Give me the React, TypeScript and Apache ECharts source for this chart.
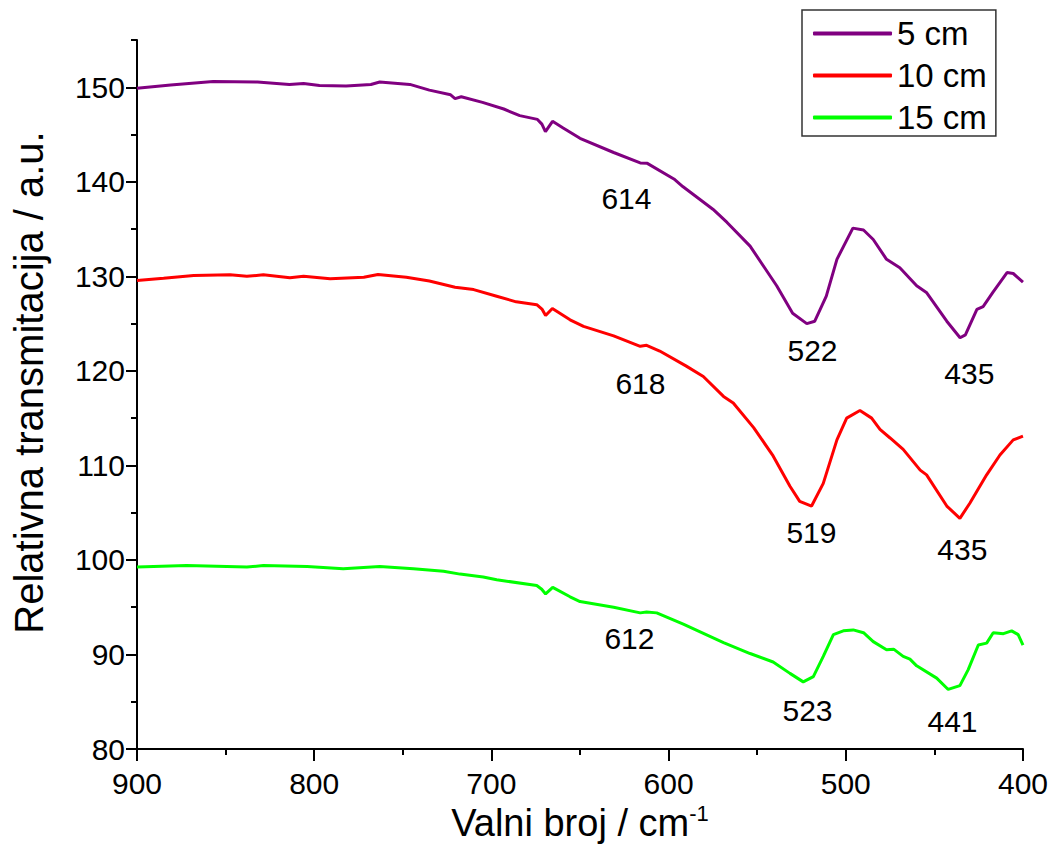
import React, { useEffect, useRef } from "react";
import * as echarts from "echarts";

// 5 cm series (wavenumber, relative transmittance)
const wn5 = [900, 881, 857, 832, 814, 806, 797, 782, 768, 763, 746, 735, 723, 720.5, 717, 705, 693, 684, 674, 671.5, 669.5, 665.5, 659.5, 650, 631, 616, 612, 597, 592, 575, 567, 554, 539, 530, 522, 517.5, 511, 505, 496, 490, 484.5, 477, 469.5, 460, 454.5, 443, 435.5, 432.5, 426, 422.5, 417, 409, 405.5, 400];
const t5 = [149.9, 150.24, 150.6, 150.56, 150.3, 150.4, 150.18, 150.14, 150.3, 150.56, 150.3, 149.7, 149.2, 148.8, 149.0, 148.4, 147.7, 147.0, 146.6, 146.1, 145.3, 146.4, 145.7, 144.6, 143.1, 142.0, 141.95, 140.3, 139.5, 137.1, 135.7, 133.2, 129.0, 126.1, 125.0, 125.25, 127.9, 131.8, 135.1, 134.9, 133.9, 131.8, 130.9, 129.0, 128.3, 125.25, 123.5, 123.8, 126.5, 126.8, 128.3, 130.4, 130.3, 129.4];

// 10 cm series
const wn10 = [900, 885, 868, 847.5, 838, 828.7, 813.7, 806, 791, 772, 764, 748, 735, 720.5, 710, 697, 686, 674.4, 671.3, 669.4, 665.6, 655.6, 648, 631, 616, 612.4, 605, 590, 580.4, 569, 563.5, 552, 541, 531.5, 526, 519.3, 512.7, 505, 499.5, 492, 485.4, 480.7, 475, 467.6, 458, 454.4, 443, 435.6, 430, 420.5, 413, 405.5, 400];
const t10 = [129.56, 129.8, 130.1, 130.16, 130.0, 130.16, 129.85, 130.0, 129.74, 129.9, 130.2, 129.9, 129.5, 128.85, 128.6, 127.9, 127.3, 127.0, 126.5, 125.85, 126.6, 125.4, 124.7, 123.7, 122.6, 122.7, 122.1, 120.5, 119.4, 117.3, 116.6, 114.0, 111.0, 107.8, 106.2, 105.7, 108.1, 112.7, 115.0, 115.8, 115.0, 113.8, 112.9, 111.7, 109.5, 109.0, 105.7, 104.4, 106.0, 109.0, 111.1, 112.7, 113.1];

// 15 cm series
const wn15 = [900, 872, 838, 828.7, 804, 783.6, 763, 744, 727, 717.7, 704.6, 697, 674.4, 671.6, 669.4, 665.4, 655.6, 650, 631, 616, 612.4, 606.7, 591.7, 569, 554, 541, 531.5, 524, 518.3, 512.7, 507, 501.4, 495.8, 490, 484.5, 477, 473, 467.6, 463.8, 460, 448.7, 442.2, 435.6, 430.9, 425.2, 420.5, 416.8, 411, 406.4, 402.7, 400];
const t15 = [99.24, 99.4, 99.24, 99.4, 99.3, 99.06, 99.3, 99.06, 98.8, 98.5, 98.2, 97.9, 97.3, 96.9, 96.4, 97.1, 96.1, 95.6, 95.0, 94.4, 94.5, 94.4, 93.2, 91.26, 90.1, 89.2, 88.0, 87.1, 87.66, 89.8, 92.1, 92.5, 92.6, 92.3, 91.36, 90.5, 90.56, 89.8, 89.5, 88.8, 87.5, 86.3, 86.7, 88.4, 91.0, 91.2, 92.3, 92.2, 92.5, 92.1, 91.0];

const seriesNames = ["5 cm", "10 cm", "15 cm"];
const seriesColors = ["#800080", "#ff0000", "#00ff00"];

// peak annotations (label, wavenumber, value where the label sits)
const annLabels = ["614", "522", "435", "618", "519", "435", "612", "523", "441"];
const annWn = [623.5, 518.5, 430, 615.6, 519.1, 433.9, 621.8, 521.3, 439.5];
const annT = [138.2, 122.1, 119.7, 118.65, 102.8, 101.0, 91.65, 84.0, 82.9];

const yMajorTicks = [80, 90, 100, 110, 120, 130, 140, 150];
const yMinorTicks = [85, 95, 105, 115, 125, 135, 145, 155];

const FONT = "'Liberation Sans', Arial, sans-serif";

export default function App() {
  const ref = useRef<HTMLDivElement>(null);
  useEffect(() => {
    document.body.style.margin = "0";
    if (!ref.current) return;
    const chart = echarts.init(ref.current, undefined, { renderer: "svg" });
    const xs = [wn5, wn10, wn15];
    const ys = [t5, t10, t15];
    const lineSeries = seriesNames.map((name, k) => ({
      name,
      type: "line",
      data: xs[k].map((x, i) => [x, ys[k][i]]),
      symbol: "none",
      showSymbol: false,
      smooth: false,
      lineStyle: { color: seriesColors[k], width: 3 },
      itemStyle: { color: seriesColors[k] },
      z: 3,
    }));
    const axisLineStyle = { color: "#000", width: 2 };
    chart.setOption({
      animation: false,
      textStyle: { fontFamily: FONT },
      grid: { left: 137, right: 28, top: 40, bottom: 118 },
      legend: {
        data: seriesNames.map((n, k) => ({ name: n, icon: "roundRect", itemStyle: { color: seriesColors[k] } })),
        orient: "vertical",
        left: 802,
        top: 10,
        itemWidth: 79,
        itemHeight: 4,
        itemGap: 9,
        padding: [7, 9, 2, 11],
        borderColor: "#333",
        borderWidth: 1.5,
        textStyle: { fontSize: 33, color: "#000", fontFamily: FONT, lineHeight: 33 },
      },
      xAxis: {
        type: "value",
        min: 400,
        max: 900,
        interval: 100,
        inverse: true,
        axisLine: { lineStyle: axisLineStyle },
        axisTick: { length: 12, lineStyle: axisLineStyle },
        minorTick: { show: true, splitNumber: 2, length: 6, lineStyle: axisLineStyle },
        axisLabel: { fontSize: 30, color: "#000", margin: 19, fontFamily: FONT },
        splitLine: { show: false },
        name: "{a|Valni broj / cm}{s|-1}",
        nameLocation: "middle",
        nameGap: 52,
        nameTextStyle: {
          fontFamily: FONT,
          color: "#000",
          rich: {
            a: { fontSize: 38, color: "#000", fontFamily: FONT },
            s: { fontSize: 22, color: "#000", fontFamily: FONT, verticalAlign: "top", padding: [0, 0, 18, 0] },
          },
        },
      },
      yAxis: [
        {
          type: "value",
          min: 80,
          max: 155,
          interval: 10,
          axisLine: { show: true, lineStyle: axisLineStyle },
          axisTick: { show: true, length: 11, customValues: yMajorTicks, lineStyle: axisLineStyle },
          axisLabel: { fontSize: 30, color: "#000", margin: 12, customValues: yMajorTicks, fontFamily: FONT },
          splitLine: { show: false },
          name: "Relativna transmitacija / a.u.",
          nameLocation: "middle",
          nameGap: 88,
          nameTextStyle: { fontSize: 40, color: "#000", fontFamily: FONT, padding: [0, 0, 0, 24] },
        },
        {
          type: "value",
          min: 80,
          max: 155,
          position: "left",
          axisLine: { show: false },
          axisTick: { show: true, length: 6, customValues: yMinorTicks, lineStyle: axisLineStyle },
          axisLabel: { show: false },
          splitLine: { show: false },
        },
      ],
      series: [
        ...lineSeries,
        {
          name: "peaks",
          type: "scatter",
          silent: true,
          symbolSize: 1,
          itemStyle: { color: "#fff", opacity: 0 },
          data: annLabels.map((l, i) => [annWn[i], annT[i], l]),
          label: {
            show: true,
            position: [0, 0],
            align: "center",
            verticalAlign: "middle",
            formatter: (p: any) => p.value[2],
            fontSize: 30,
            color: "#000",
            opacity: 1,
            textBorderWidth: 0,
            fontFamily: FONT,
          },
          z: 4,
        },
      ],
    });
    return () => chart.dispose();
  }, []);
  return <div ref={ref} style={{ width: 1051, height: 867 }} />;
}
